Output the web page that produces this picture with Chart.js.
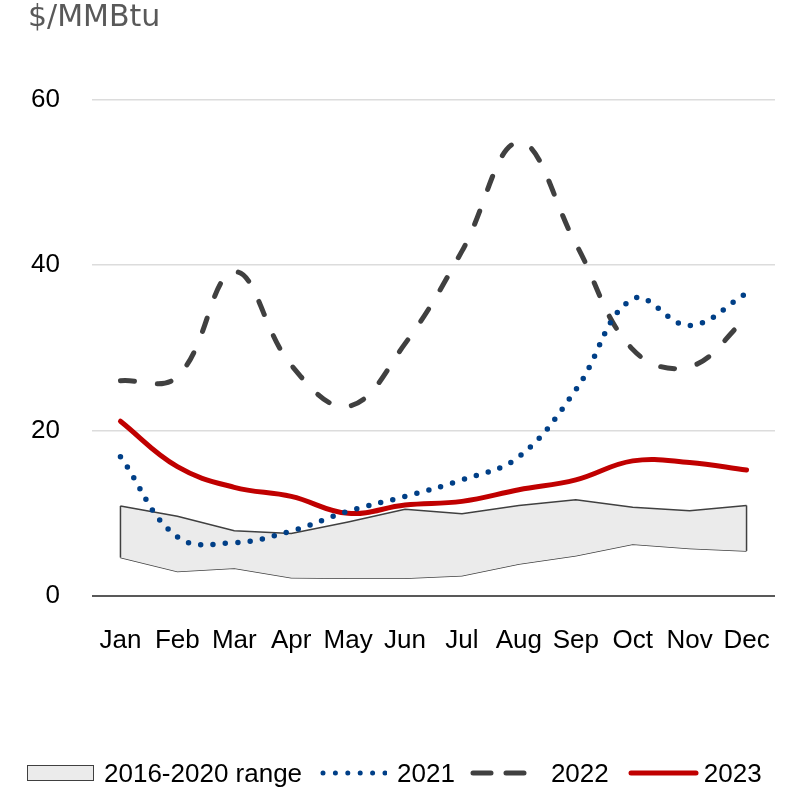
<!DOCTYPE html>
<html>
<head>
<meta charset="utf-8">
<script src="https://cdn.jsdelivr.net/npm/chart.js@4.4.1/dist/chart.umd.min.js"></script>
<style>
  html, body { margin: 0; padding: 0; background: #fff; }
  #wrap { position: relative; width: 797px; height: 788px; }
  #legend {
    position: absolute; left: 0; top: 758px; height: 30px;
    display: flex; align-items: center;
    font: 26px 'Liberation Sans', Arial, sans-serif; color: #000; white-space: nowrap;
  }
  #legend .box { margin-left: 27px; width: 65px; height: 14px; background: #ebebeb; border: 1.5px solid #404040; }
  #legend svg { display: block; }
</style>
</head>
<body>
<div id="wrap">
  <canvas id="gas-chart" width="797" height="788"></canvas>
  <div id="legend">
    <div class="box"></div>
    <span style="margin-left:10px">2016-2020 range</span>
    <svg style="margin-left:18px" width="67" height="10"><line x1="3" y1="5" x2="66" y2="5" stroke="#003f87" stroke-width="5" stroke-linecap="round" stroke-dasharray="0 12.4"/></svg>
    <span style="margin-left:10px">2021</span>
    <svg style="margin-left:15px" width="67" height="10"><line x1="3" y1="5" x2="64" y2="5" stroke="#404040" stroke-width="5" stroke-linecap="round" stroke-dasharray="18 15"/></svg>
    <span style="margin-left:14px">2022</span>
    <svg style="margin-left:19px" width="71" height="10"><line x1="3" y1="5" x2="68" y2="5" stroke="#c00000" stroke-width="5" stroke-linecap="round"/></svg>
    <span style="margin-left:5px">2023</span>
  </div>
</div>
<script>
const months = ['Jan', 'Feb', 'Mar', 'Apr', 'May', 'Jun', 'Jul', 'Aug', 'Sep', 'Oct', 'Nov', 'Dec'];
const rangeLow = [4.6, 2.9, 3.3, 2.15, 2.1, 2.1, 2.4, 3.8, 4.8, 6.2, 5.7, 5.4];
const rangeHigh = [10.85, 9.6, 7.85, 7.5, 8.9, 10.45, 9.9, 10.9, 11.6, 10.7, 10.25, 10.9];
const prices2021 = [16.8, 7.1, 6.4, 7.8, 10.2, 12.0, 14.0, 16.8, 24.9, 35.9, 32.7, 36.6];
const prices2022 = [26.0, 26.5, 39.2, 27.9, 22.9, 30.5, 41.7, 54.9, 42.6, 29.8, 27.7, 33.6];
const prices2023 = [21.1, 15.6, 13.1, 12.0, 9.95, 10.95, 11.4, 12.8, 14.0, 16.3, 16.1, 15.2];
const yTicks = [0, 20, 40, 60];

const FONT = "'Liberation Sans', Arial, sans-serif";

// closes the shaded range at both ends
const bandEdges = {
  id: 'bandEdges',
  afterDatasetsDraw(chart) {
    const lo = chart.getDatasetMeta(0).data;
    const hi = chart.getDatasetMeta(1).data;
    const ctx = chart.ctx;
    ctx.save();
    ctx.strokeStyle = '#404040';
    ctx.lineWidth = 1.5;
    [0, lo.length - 1].forEach(i => {
      ctx.beginPath();
      ctx.moveTo(lo[i].x, lo[i].y);
      ctx.lineTo(hi[i].x, hi[i].y);
      ctx.stroke();
    });
    ctx.restore();
  }
};

const ctx = document.getElementById('gas-chart').getContext('2d');

new Chart(ctx, {
  type: 'line',
  data: {
    labels: months,
    datasets: [
      {
        label: 'low', data: rangeLow, order: 5,
        borderColor: '#404040', borderWidth: 1.5, tension: 0, fill: false, pointRadius: 0
      },
      {
        label: '2016-2020 range', data: rangeHigh, order: 4,
        borderColor: '#404040', borderWidth: 1.5, tension: 0,
        fill: '-1', backgroundColor: '#ebebeb', pointRadius: 0
      },
      {
        label: '2022', data: prices2022, order: 3,
        borderColor: '#404040', borderWidth: 5, borderDash: [14, 23], borderCapStyle: 'round',
        tension: 0.4, fill: false, pointRadius: 0
      },
      {
        label: '2023', data: prices2023, order: 2,
        borderColor: '#c00000', borderWidth: 5, borderCapStyle: 'round',
        tension: 0.4, fill: false, pointRadius: 0
      },
      {
        label: '2021', data: prices2021, order: 1,
        borderColor: '#003f87', borderWidth: 5.5, borderDash: [0, 12.4], borderCapStyle: 'round',
        tension: 0.4, fill: false, pointRadius: 0
      }
    ]
  },
  options: {
    responsive: false,
    animation: false,
    layout: { padding: { left: 28, right: 22, top: 0, bottom: 92.5 } },
    scales: {
      x: {
        offset: true,
        grid: { display: false, drawTicks: false },
        border: { display: false },
        ticks: { color: '#000', font: { family: FONT, size: 26 }, padding: 30, maxRotation: 0, autoSkip: false },
        afterFit(scale) {
          scale.height = 100;
          scale.paddingLeft = 0;
          scale.paddingRight = 0;
        }
      },
      y: {
        min: 0, max: 60,
        afterBuildTicks(scale) { scale.ticks = yTicks.map(v => ({ value: v })); },
        grid: {
          drawTicks: false,
          color: c => c.tick.value === 0 ? '#595959' : '#dcdcdc',
          lineWidth: c => c.tick.value === 0 ? 2 : 1.5
        },
        border: { display: false },
        ticks: { color: '#000', font: { family: FONT, size: 26 }, padding: 32 },
        afterFit(scale) { scale.width = 64; }
      }
    },
    plugins: {
      legend: { display: false },
      tooltip: { enabled: false },
      title: {
        display: true,
        text: '$/MMBtu',
        align: 'start',
        color: '#595959',
        font: { family: "'DejaVu Sans', sans-serif", size: 30, weight: 'normal' },
        padding: { top: 0, bottom: 64 }
      }
    }
  },
  plugins: [bandEdges]
});
</script>
</body>
</html>
